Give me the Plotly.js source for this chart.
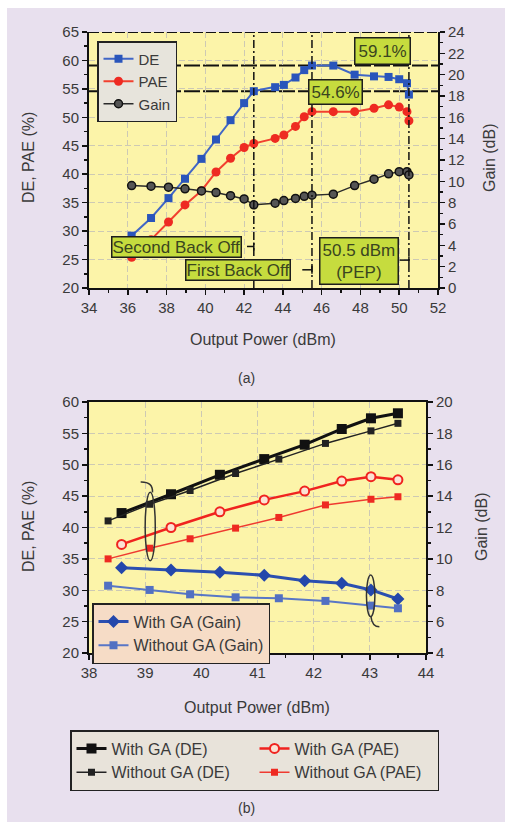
<!DOCTYPE html>
<html><head><meta charset="utf-8">
<script src="https://cdn.plot.ly/plotly-3.0.1.min.js"></script>
<style>html,body{margin:0;padding:0;background:#fff}</style>
</head><body><div id="chart" style="width:505px;height:822px"></div>
<script>
// ---- Panel (a) data ----
const powerA = [36.2, 37.2, 38.1, 38.95, 39.8, 40.55, 41.3, 42.0, 42.5, 43.6, 44.05, 44.65, 45.1, 45.5, 46.6, 47.7, 48.7, 49.45, 50.0, 50.4, 50.5];
const deA    = [29.2, 32.3, 35.8, 39.2, 42.7, 46.1, 49.5, 52.5, 54.6, 55.3, 55.7, 57.0, 58.3, 59.1, 59.1, 57.5, 57.2, 57.1, 56.7, 56.0, 54.0];
const paeA   = [25.4, 28.5, 31.6, 34.6, 37.1, 40.4, 42.8, 44.7, 45.4, 46.3, 46.9, 48.4, 50.1, 51.0, 51.0, 51.0, 51.6, 52.2, 51.8, 51.0, 49.4];
const gainA  = [9.6, 9.55, 9.45, 9.3, 9.1, 8.95, 8.65, 8.35, 7.8, 7.95, 8.2, 8.4, 8.6, 8.7, 8.8, 9.6, 10.2, 10.7, 10.9, 10.9, 10.6];
const seriesNamesA = ['DE', 'PAE', 'Gain'];

// ---- Panel (b) data ----
const powerWith    = [38.58, 39.46, 40.33, 41.12, 41.84, 42.5, 43.02, 43.5];
const deWith       = [42.3, 45.3, 48.4, 50.9, 53.2, 55.7, 57.4, 58.2];
const paeWith      = [37.3, 40.0, 42.5, 44.4, 45.8, 47.4, 48.1, 47.6];
const gainWith     = [9.44, 9.29, 9.15, 8.95, 8.61, 8.44, 8.02, 7.44];
const powerWithout = [38.34, 39.08, 39.8, 40.61, 41.38, 42.21, 43.02, 43.5];
const deWithout    = [41.05, 43.7, 45.9, 48.6, 50.9, 53.4, 55.4, 56.6];
const paeWithout   = [35.0, 36.7, 38.2, 39.9, 41.6, 43.6, 44.5, 44.9];
const gainWithout  = [8.29, 8.02, 7.74, 7.55, 7.49, 7.32, 7.02, 6.85];

const W = 505, H = 822;
const fx = p => p / W, fy = p => 1 - p / H;
const FONT = 'Liberation Sans, Arial, sans-serif';
const TXT = '#3a3a3a';

const traces = [
  {x: powerA, y: deA, name: seriesNamesA[0], xaxis: 'x', yaxis: 'y', legend: 'legend', mode: 'lines+markers',
   line: {color: '#4166c6', width: 2}, marker: {symbol: 'square', size: 8, color: '#2a55bb'}},
  {x: powerA, y: paeA, name: seriesNamesA[1], xaxis: 'x', yaxis: 'y', legend: 'legend', mode: 'lines+markers',
   line: {color: '#f2402f', width: 2}, marker: {symbol: 'circle', size: 9, color: '#ee2a22'}},
  {x: powerA, y: gainA, name: seriesNamesA[2], xaxis: 'x', yaxis: 'y2', legend: 'legend', mode: 'lines+markers',
   line: {color: '#2a2a2a', width: 1.5}, marker: {symbol: 'circle', size: 8, color: '#555', line: {color: '#111', width: 1.5}}},

  {x: powerWith, y: gainWith, name: 'With GA (Gain)', xaxis: 'x2', yaxis: 'y4', legend: 'legend2', mode: 'lines+markers',
   line: {color: '#2b4fb0', width: 3}, marker: {symbol: 'diamond', size: 10, color: '#2447ab'}},
  {x: powerWithout, y: gainWithout, name: 'Without GA (Gain)', xaxis: 'x2', yaxis: 'y4', legend: 'legend2', mode: 'lines+markers',
   line: {color: '#5876c6', width: 2}, marker: {symbol: 'square', size: 8, color: '#5270c2'}},

  {x: powerWith, y: deWith, name: 'With GA (DE)', xaxis: 'x2', yaxis: 'y3', legend: 'legend3', mode: 'lines+markers',
   line: {color: '#111', width: 3}, marker: {symbol: 'square', size: 10, color: '#111'}},
  {x: powerWith, y: paeWith, name: 'With GA (PAE)', xaxis: 'x2', yaxis: 'y3', legend: 'legend3', mode: 'lines+markers',
   line: {color: '#f0231f', width: 2.5}, marker: {symbol: 'circle', size: 9, color: '#fbe2d4', line: {color: '#f0231f', width: 2}}},
  {x: powerWithout, y: deWithout, name: 'Without GA (DE)', xaxis: 'x2', yaxis: 'y3', legend: 'legend3', mode: 'lines+markers',
   line: {color: '#222', width: 1.5}, marker: {symbol: 'square', size: 7, color: '#222'}},
  {x: powerWithout, y: paeWithout, name: 'Without GA (PAE)', xaxis: 'x2', yaxis: 'y3', legend: 'legend3', mode: 'lines+markers',
   line: {color: '#ef3a30', width: 1.5}, marker: {symbol: 'square', size: 7, color: '#ee2a22'}}
];

const axBase = {
  showline: true, linecolor: '#111', linewidth: 2, ticks: 'outside', ticklen: 5, tickwidth: 1.5, tickcolor: '#111',
  tickfont: {family: FONT, size: 15, color: TXT}, zeroline: false, fixedrange: true
};
const gridOn = {showgrid: true, gridcolor: '#cdc9b4', griddash: '6px,3px', gridwidth: 1};

const layout = {
  width: W, height: H, margin: {l: 0, r: 0, t: 0, b: 0},
  paper_bgcolor: '#e8e0ee', plot_bgcolor: '#fcf4a9',
  font: {family: FONT, color: TXT},
  xaxis: Object.assign({}, axBase, gridOn, {domain: [fx(89), fx(438)], range: [34, 52], dtick: 2, anchor: 'y',
    minor: {dtick: 1, ticks: 'outside', ticklen: 3, tickcolor: '#111', showgrid: false}}),
  yaxis: Object.assign({}, axBase, gridOn, {domain: [fy(288), fy(32)], range: [20, 65], dtick: 5, anchor: 'x',
    minor: {dtick: 2.5, ticks: 'outside', ticklen: 3, tickcolor: '#111', showgrid: false}}),
  yaxis2: Object.assign({}, axBase, {overlaying: 'y', side: 'right', anchor: 'x', range: [0, 24], dtick: 2, showgrid: false,
    minor: {dtick: 1, ticks: 'outside', ticklen: 3, tickcolor: '#111', showgrid: false}}),
  xaxis2: Object.assign({}, axBase, gridOn, {domain: [fx(89), fx(426)], range: [38, 44], dtick: 1, anchor: 'y3', mirror: true,
    minor: {dtick: 0.5, ticks: 'outside', ticklen: 3, tickcolor: '#111', showgrid: false}}),
  yaxis3: Object.assign({}, axBase, gridOn, {domain: [fy(653), fy(402)], range: [20, 60], dtick: 5, anchor: 'x2',
    minor: {dtick: 2.5, ticks: 'outside', ticklen: 3, tickcolor: '#111', showgrid: false}}),
  yaxis4: Object.assign({}, axBase, {overlaying: 'y3', side: 'right', anchor: 'x2', range: [4, 20], dtick: 2, showgrid: false,
    minor: {dtick: 1, ticks: 'outside', ticklen: 3, tickcolor: '#111', showgrid: false}}),
  showlegend: true,
  legend: {x: fx(97), y: fy(41), xanchor: 'left', yanchor: 'top', bgcolor: '#e7e4dc', bordercolor: '#222', borderwidth: 1.5,
    font: {family: FONT, size: 15, color: TXT}, itemwidth: 30, tracegroupgap: 0},
  legend2: {x: fx(92), y: fy(603), xanchor: 'left', yanchor: 'top', bgcolor: '#f6dcc6', bordercolor: '#222', borderwidth: 1.5,
    font: {family: FONT, size: 16, color: TXT}, itemwidth: 30, tracegroupgap: 0},
  legend3: {x: fx(70), y: fy(730), xanchor: 'left', yanchor: 'top', bgcolor: '#e8e3da', bordercolor: '#222', borderwidth: 1.5,
    orientation: 'h', entrywidth: 138, entrywidthmode: 'pixels',
    font: {family: FONT, size: 16, color: TXT}, itemwidth: 30},
  shapes: [],
  annotations: []
};

const S = layout.shapes, A = layout.annotations;
// white strips at image edge
S.push({type: 'rect', xref: 'paper', yref: 'paper', x0: 0, x1: fx(7), y0: 0, y1: 1, fillcolor: '#fff', line: {width: 0}});
S.push({type: 'rect', xref: 'paper', yref: 'paper', x0: 0, x1: 1, y0: fy(8), y1: 1, fillcolor: '#fff', line: {width: 0}});
// top border of panel (a)
S.push({type: 'line', xref: 'x', yref: 'y', x0: 34, x1: 52, y0: 65, y1: 65, line: {color: '#111', width: 2, dash: '10px,3px'}});
// reference horizontal lines 59.1 and 54.6
[59.1, 54.6].forEach(v => S.push({type: 'line', xref: 'x', yref: 'y', x0: 34, x1: 52, y0: v, y1: v, layer: 'below',
  line: {color: '#111', width: 2, dash: '16px,3px'}}));
// vertical dash-dot lines
[42.5, 45.5, 50.5].forEach(v => S.push({type: 'line', xref: 'x', yref: 'y', x0: v, x1: v, y0: 20, y1: 65,
  line: {color: '#111', width: 1.5, dash: '8px,3px,2px,3px'}}));
// connector lines with end ticks
const conns = [[42.15, 42.5, 27.3], [45.0, 45.5, 23.2], [50.02, 50.5, 24.9]];
conns.forEach(c => {
  S.push({type: 'line', xref: 'x', yref: 'y', x0: c[0], x1: c[1], y0: c[2], y1: c[2], line: {color: '#111', width: 1.5}});
  S.push({type: 'line', xref: 'x', yref: 'y', x0: c[1], x1: c[1], y0: c[2] - 0.7, y1: c[2] + 0.7, line: {color: '#111', width: 1.5}});
});

const boxStyle = {bgcolor: '#c6dc3e', bordercolor: '#1d1d1d', borderwidth: 1.5, borderpad: 2, showarrow: false,
  font: {family: FONT, size: 17, color: '#3a4520'}, xref: 'x', yref: 'y'};
A.push(Object.assign({}, boxStyle, {x: 49.16, y: 61.66, text: '59.1%', borderpad: 3}));
A.push(Object.assign({}, boxStyle, {x: 46.69, y: 54.37, text: '54.6%'}));
A.push(Object.assign({}, boxStyle, {x: 38.49, y: 27.27, text: 'Second Back Off', borderpad: 0}));
A.push(Object.assign({}, boxStyle, {x: 41.66, y: 23.18, text: 'First Back Off', borderpad: 0}));
A.push(Object.assign({}, boxStyle, {x: 47.91, y: 24.79, text: '50.5 dBm<br>(PEP)', borderpad: 2}));

// panel (b) ellipses and curved arrows
S.push({type: 'circle', xref: 'x2', yref: 'y3', x0: 39.0, x1: 39.18, y0: 34.7, y1: 45.6, line: {color: '#333', width: 1.5}});
S.push({type: 'path', xref: 'x2', yref: 'y3', path: 'M 39.13 45.6 Q 39.14 47.3 38.92 47.25', line: {color: '#333', width: 1.5}});
A.push({xref: 'x2', yref: 'y3', axref: 'x2', ayref: 'y3', x: 38.87, y: 47.25, ax: 38.93, ay: 47.25, text: '',
  showarrow: true, arrowhead: 2, arrowsize: 1, arrowwidth: 1.5, arrowcolor: '#333'});
S.push({type: 'circle', xref: 'x2', yref: 'y4', x0: 42.94, x1: 43.09, y0: 6.32, y1: 8.97, line: {color: '#333', width: 1.5}});
S.push({type: 'path', xref: 'x2', yref: 'y4', path: 'M 43.02 6.32 Q 43.04 5.68 43.17 5.67', line: {color: '#333', width: 1.5}});
A.push({xref: 'x2', yref: 'y4', axref: 'x2', ayref: 'y4', x: 43.22, y: 5.67, ax: 43.16, ay: 5.67, text: '',
  showarrow: true, arrowhead: 2, arrowsize: 1, arrowwidth: 1.5, arrowcolor: '#333'});

// axis titles and captions
const cap = (px, py, text, size, angle) => A.push({xref: 'paper', yref: 'paper', x: fx(px), y: fy(py), text: text,
  showarrow: false, textangle: angle || 0, xanchor: 'center', yanchor: 'middle', font: {family: FONT, size: size, color: TXT}});
cap(28, 158, 'DE, PAE (%)', 16, -90);
cap(489, 158, 'Gain (dB)', 16, -90);
cap(263, 340, 'Output Power (dBm)', 16);
cap(246, 378, '(a)', 14);
cap(28, 527, 'DE, PAE (%)', 16, -90);
cap(481, 527, 'Gain (dB)', 16, -90);
cap(257, 707, 'Output Power (dBm)', 16);
cap(246, 808, '(b)', 14);

Plotly.newPlot('chart', traces, layout, {staticPlot: true, displayModeBar: false});
</script></body></html>
